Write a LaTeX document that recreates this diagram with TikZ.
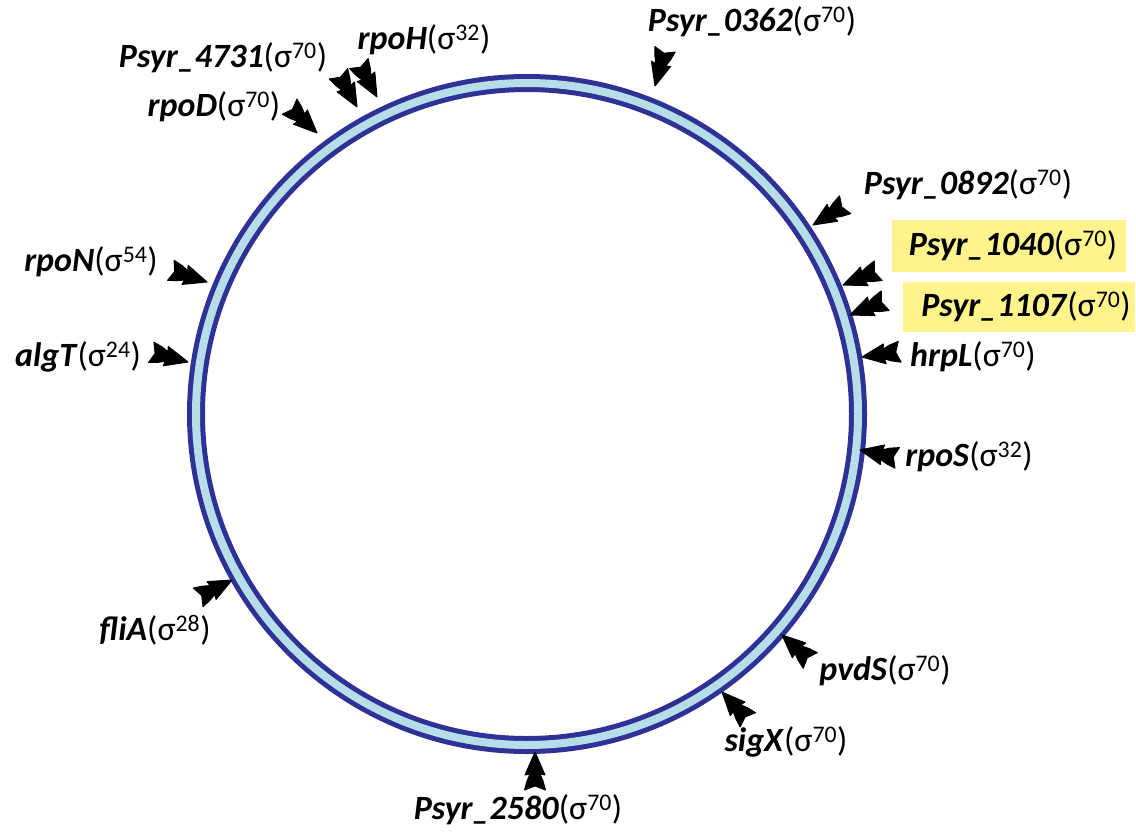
\documentclass[tikz,border=0pt]{standalone}
\usepackage{fontspec}
\setmainfont{Carlito}
\usetikzlibrary{calc}
\definecolor{ringdark}{RGB}{46,49,150}
\definecolor{ringlight}{RGB}{183,222,232}
\definecolor{hl}{RGB}{255,243,140}
\newcommand{\gene}[2]{\textbf{\textit{#1}}(σ\textsuperscript{#2})}
\begin{document}
\begin{tikzpicture}[x=1pt,y=-1pt,
  lbl/.style={font=\fontsize{34}{36}\selectfont, inner sep=0pt},
  hlbox/.style={fill=hl, draw=none, inner sep=0pt},
  pinshape/.style={fill=black, draw=black, line width=1pt, line join=round}]
\useasboundingbox (0,0) rectangle (1136,833);
% ring
\coordinate (c) at (527,414);
\draw[ringdark, line width=18] (c) circle[radius=331];
\draw[ringlight, line width=8] (c) circle[radius=331];
% highlight boxes
\node[hlbox, minimum width=234, minimum height=52] (b1040) at (1009,246) {};
\node[hlbox, minimum width=232, minimum height=50] (b1107) at (1019,307) {};
% labels
\node[lbl] (lrpoH) at (424,40) {\gene{rpoH}{32}};
\node[lbl] (l4731) at (223,58) {\gene{Psyr\_4731}{70}};
\node[lbl] (lrpoD) at (214,107) {\gene{rpoD}{70}};
\node[lbl] (l0362) at (752,22) {\gene{Psyr\_0362}{70}};
\node[lbl] (l0892) at (968,185) {\gene{Psyr\_0892}{70}};
\node[lbl] (l1040) at (1013,246) {\gene{Psyr\_1040}{70}};
\node[lbl] (l1107) at (1026,307) {\gene{Psyr\_1107}{70}};
\node[lbl] (lhrpL) at (973,357) {\gene{hrpL}{70}};
\node[lbl] (lrpoS) at (969,457) {\gene{rpoS}{32}};
\node[lbl] (lpvdS) at (885,671) {\gene{pvdS}{70}};
\node[lbl] (lsigX) at (786,742) {\gene{sigX}{70}};
\node[lbl] (l2580) at (518,810) {\gene{Psyr\_2580}{70}};
\node[lbl] (lfliA) at (155,630) {\gene{fliA}{28}};
\node[lbl] (lrpoN) at (91,262) {\gene{rpoN}{54}};
\node[lbl] (lalgT) at (78,357) {\gene{algT}{24}};
% arrow tips (h) and tails (t)
\coordinate (hrpoH) at (377,97);   \coordinate (trpoH) at (358,62);
\coordinate (h4731) at (357,107);  \coordinate (t4731) at (338,73);
\coordinate (hrpoD) at (317,133);  \coordinate (trpoD) at (290,107);
\coordinate (h0362) at (655,86);   \coordinate (t0362) at (664,53);
\coordinate (h0892) at (813,225);  \coordinate (t0892) at (848,203);
\coordinate (h1040) at (843,285);  \coordinate (t1040) at (880,270);
\coordinate (h1107) at (850,315);  \coordinate (t1107) at (887,300);
\coordinate (hhrpL) at (862,357);  \coordinate (thrpL) at (898,352);
\coordinate (hrpoS) at (860,450);  \coordinate (trpoS) at (893,457);
\coordinate (hpvdS) at (782,635);  \coordinate (tpvdS) at (812,662);
\coordinate (hsigX) at (722,692);  \coordinate (tsigX) at (748,720);
\coordinate (h2580) at (535,752);  \coordinate (t2580) at (535,792);
\coordinate (hfliA) at (232,580);  \coordinate (tfliA) at (197,598);
\coordinate (hrpoN) at (207,282);  \coordinate (trpoN) at (170,270);
\coordinate (halgT) at (188,362);  \coordinate (talgT) at (150,352);
\foreach \g in {rpoH,4731,rpoD,0362,0892,1040,1107,hrpL,rpoS,pvdS,sigX,2580,fliA,rpoN,algT}{
  \path let \p1=($(t\g)-(h\g)$), \n1={atan2(\y1,\x1)} in \pgfextra{\xdef\pinang{\n1}};
  \path[pinshape, shift={(h\g)}, rotate=\pinang]
    (0,0) -- (23,10) -- (22,5) -- (29,8) -- (38,10.5) -- (34,0)
    -- (38,-10.5) -- (29,-8) -- (22,-5) -- (23,-10) -- cycle;
}
\end{tikzpicture}
\end{document}
